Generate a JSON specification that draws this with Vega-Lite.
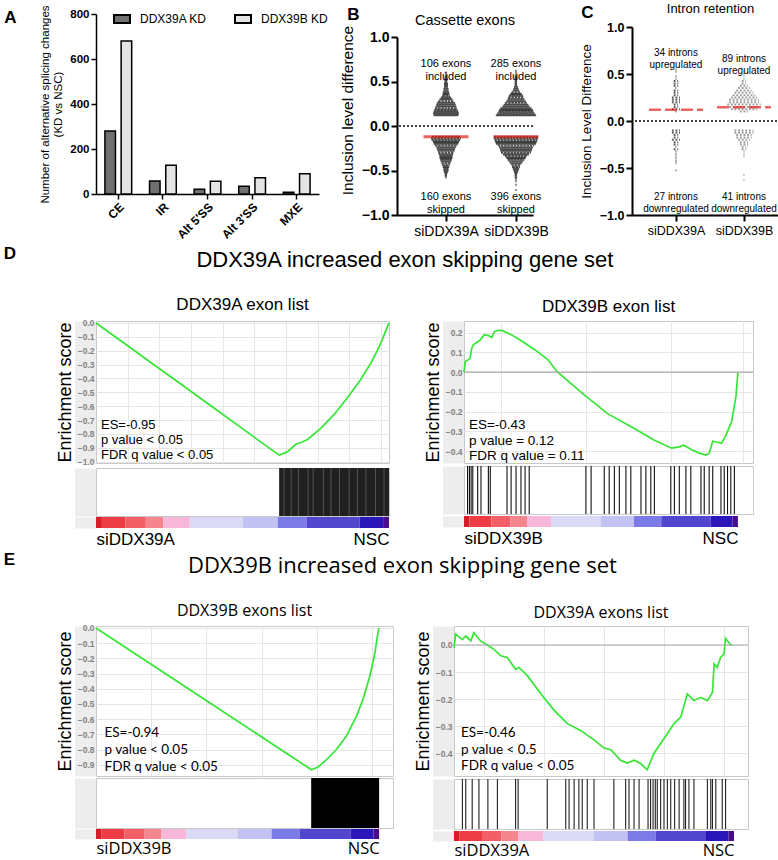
{
"$schema":"https://vega.github.io/schema/vega-lite/v6.json",
"padding":{"left":3,"top":2,"right":2,"bottom":2},
"config":{"font":"Liberation Sans","view":{"stroke":null},"axis":{"labelColor":"black","titleColor":"black","domainColor":"black","tickColor":"black","grid":false,"labelOverlap":false},"title":{"color":"black","fontWeight":"normal","offset":4},"legend":{"labelColor":"black"}},
"datasets":{
"one":[{"k":1}],
"aBars":[{"cat":"CE","kd":"DDX39A KD","n":280},{"cat":"CE","kd":"DDX39B KD","n":680},{"cat":"IR","kd":"DDX39A KD","n":58},{"cat":"IR","kd":"DDX39B KD","n":128},{"cat":"Alt 5'SS","kd":"DDX39A KD","n":21},{"cat":"Alt 5'SS","kd":"DDX39B KD","n":57},{"cat":"Alt 3'SS","kd":"DDX39A KD","n":35},{"cat":"Alt 3'SS","kd":"DDX39B KD","n":72},{"cat":"MXE","kd":"DDX39A KD","n":8},{"cat":"MXE","kd":"DDX39B KD","n":90}],
"bBins":[
{"g":"siDDX39A","v":0.6,"n":2},{"g":"siDDX39A","v":0.58,"n":1},{"g":"siDDX39A","v":0.56,"n":2},{"g":"siDDX39A","v":0.54,"n":2},{"g":"siDDX39A","v":0.52,"n":3},{"g":"siDDX39A","v":0.5,"n":2},{"g":"siDDX39A","v":0.48,"n":3},{"g":"siDDX39A","v":0.46,"n":3},{"g":"siDDX39A","v":0.44,"n":3},{"g":"siDDX39A","v":0.42,"n":4},{"g":"siDDX39A","v":0.4,"n":4},{"g":"siDDX39A","v":0.38,"n":5},{"g":"siDDX39A","v":0.36,"n":5},{"g":"siDDX39A","v":0.34,"n":6},{"g":"siDDX39A","v":0.32,"n":8},{"g":"siDDX39A","v":0.3,"n":10},{"g":"siDDX39A","v":0.28,"n":12},{"g":"siDDX39A","v":0.26,"n":14},{"g":"siDDX39A","v":0.24,"n":15},{"g":"siDDX39A","v":0.22,"n":16},{"g":"siDDX39A","v":0.2,"n":17},{"g":"siDDX39A","v":0.18,"n":18},{"g":"siDDX39A","v":0.16,"n":19},{"g":"siDDX39A","v":0.14,"n":20},{"g":"siDDX39A","v":0.12,"n":19},
{"g":"siDDX39A","v":-0.12,"n":22},{"g":"siDDX39A","v":-0.14,"n":23},{"g":"siDDX39A","v":-0.16,"n":22},{"g":"siDDX39A","v":-0.18,"n":20},{"g":"siDDX39A","v":-0.2,"n":19},{"g":"siDDX39A","v":-0.22,"n":17},{"g":"siDDX39A","v":-0.24,"n":15},{"g":"siDDX39A","v":-0.26,"n":14},{"g":"siDDX39A","v":-0.28,"n":13},{"g":"siDDX39A","v":-0.3,"n":12},{"g":"siDDX39A","v":-0.32,"n":11},{"g":"siDDX39A","v":-0.34,"n":10},{"g":"siDDX39A","v":-0.36,"n":10},{"g":"siDDX39A","v":-0.38,"n":9},{"g":"siDDX39A","v":-0.4,"n":8},{"g":"siDDX39A","v":-0.42,"n":7},{"g":"siDDX39A","v":-0.44,"n":6},{"g":"siDDX39A","v":-0.46,"n":5},{"g":"siDDX39A","v":-0.48,"n":4},{"g":"siDDX39A","v":-0.5,"n":4},{"g":"siDDX39A","v":-0.52,"n":3},{"g":"siDDX39A","v":-0.54,"n":2},{"g":"siDDX39A","v":-0.56,"n":2},{"g":"siDDX39A","v":-0.58,"n":1},
{"g":"siDDX39B","v":0.62,"n":1},{"g":"siDDX39B","v":0.6,"n":1},{"g":"siDDX39B","v":0.58,"n":1},{"g":"siDDX39B","v":0.56,"n":2},{"g":"siDDX39B","v":0.54,"n":2},{"g":"siDDX39B","v":0.52,"n":2},{"g":"siDDX39B","v":0.5,"n":2},{"g":"siDDX39B","v":0.48,"n":2},{"g":"siDDX39B","v":0.46,"n":2},{"g":"siDDX39B","v":0.44,"n":3},{"g":"siDDX39B","v":0.42,"n":4},{"g":"siDDX39B","v":0.4,"n":5},{"g":"siDDX39B","v":0.38,"n":7},{"g":"siDDX39B","v":0.36,"n":9},{"g":"siDDX39B","v":0.34,"n":11},{"g":"siDDX39B","v":0.32,"n":12},{"g":"siDDX39B","v":0.3,"n":13},{"g":"siDDX39B","v":0.28,"n":15},{"g":"siDDX39B","v":0.26,"n":17},{"g":"siDDX39B","v":0.24,"n":19},{"g":"siDDX39B","v":0.22,"n":21},{"g":"siDDX39B","v":0.2,"n":24},{"g":"siDDX39B","v":0.18,"n":26},{"g":"siDDX39B","v":0.16,"n":27},{"g":"siDDX39B","v":0.14,"n":29},{"g":"siDDX39B","v":0.12,"n":31},
{"g":"siDDX39B","v":-0.12,"n":34},{"g":"siDDX39B","v":-0.14,"n":34},{"g":"siDDX39B","v":-0.16,"n":33},{"g":"siDDX39B","v":-0.18,"n":32},{"g":"siDDX39B","v":-0.2,"n":31},{"g":"siDDX39B","v":-0.22,"n":28},{"g":"siDDX39B","v":-0.24,"n":26},{"g":"siDDX39B","v":-0.26,"n":25},{"g":"siDDX39B","v":-0.28,"n":24},{"g":"siDDX39B","v":-0.3,"n":23},{"g":"siDDX39B","v":-0.32,"n":20},{"g":"siDDX39B","v":-0.34,"n":17},{"g":"siDDX39B","v":-0.36,"n":15},{"g":"siDDX39B","v":-0.38,"n":13},{"g":"siDDX39B","v":-0.4,"n":11},{"g":"siDDX39B","v":-0.42,"n":9},{"g":"siDDX39B","v":-0.44,"n":7},{"g":"siDDX39B","v":-0.46,"n":6},{"g":"siDDX39B","v":-0.48,"n":5},{"g":"siDDX39B","v":-0.5,"n":4},{"g":"siDDX39B","v":-0.52,"n":3},{"g":"siDDX39B","v":-0.54,"n":2},{"g":"siDDX39B","v":-0.56,"n":2},{"g":"siDDX39B","v":-0.58,"n":2},{"g":"siDDX39B","v":-0.6,"n":1},{"g":"siDDX39B","v":-0.62,"n":1},{"g":"siDDX39B","v":-0.66,"n":1},{"g":"siDDX39B","v":-0.72,"n":1}],
"bMed":[{"g":"siDDX39A","v":-0.12},{"g":"siDDX39B","v":-0.12}],
"bLab":[{"g":"siDDX39A","v":0.7,"t":["106 exons","included"]},{"g":"siDDX39B","v":0.7,"t":["285 exons","included"]},{"g":"siDDX39A","v":-0.8,"t":["160 exons","skipped"]},{"g":"siDDX39B","v":-0.8,"t":["396 exons","skipped"]}],
"cBins":[
{"g":"siDDX39A","v":0.55,"n":1},{"g":"siDDX39A","v":0.525,"n":1},{"g":"siDDX39A","v":0.475,"n":1},{"g":"siDDX39A","v":0.45,"n":1},{"g":"siDDX39A","v":0.425,"n":2},{"g":"siDDX39A","v":0.4,"n":2},{"g":"siDDX39A","v":0.375,"n":2},{"g":"siDDX39A","v":0.35,"n":1},{"g":"siDDX39A","v":0.325,"n":2},{"g":"siDDX39A","v":0.3,"n":2},{"g":"siDDX39A","v":0.275,"n":2},{"g":"siDDX39A","v":0.25,"n":3},{"g":"siDDX39A","v":0.225,"n":3},{"g":"siDDX39A","v":0.2,"n":3},{"g":"siDDX39A","v":0.175,"n":2},{"g":"siDDX39A","v":0.15,"n":2},{"g":"siDDX39A","v":0.125,"n":3},{"g":"siDDX39A","v":0.1,"n":1},
{"g":"siDDX39A","v":-0.1,"n":3},{"g":"siDDX39A","v":-0.125,"n":3},{"g":"siDDX39A","v":-0.15,"n":2},{"g":"siDDX39A","v":-0.175,"n":2},{"g":"siDDX39A","v":-0.2,"n":3},{"g":"siDDX39A","v":-0.225,"n":2},{"g":"siDDX39A","v":-0.25,"n":2},{"g":"siDDX39A","v":-0.275,"n":1},{"g":"siDDX39A","v":-0.3,"n":2},{"g":"siDDX39A","v":-0.325,"n":1},{"g":"siDDX39A","v":-0.35,"n":1},{"g":"siDDX39A","v":-0.375,"n":1},{"g":"siDDX39A","v":-0.4,"n":1},{"g":"siDDX39A","v":-0.425,"n":1},{"g":"siDDX39A","v":-0.45,"n":1},{"g":"siDDX39A","v":-0.525,"n":1},
{"g":"siDDX39B","v":0.525,"n":1},{"g":"siDDX39B","v":0.5,"n":1},{"g":"siDDX39B","v":0.475,"n":1},{"g":"siDDX39B","v":0.45,"n":1},{"g":"siDDX39B","v":0.425,"n":2},{"g":"siDDX39B","v":0.4,"n":2},{"g":"siDDX39B","v":0.375,"n":3},{"g":"siDDX39B","v":0.35,"n":4},{"g":"siDDX39B","v":0.325,"n":5},{"g":"siDDX39B","v":0.3,"n":6},{"g":"siDDX39B","v":0.275,"n":7},{"g":"siDDX39B","v":0.25,"n":8},{"g":"siDDX39B","v":0.225,"n":9},{"g":"siDDX39B","v":0.2,"n":9},{"g":"siDDX39B","v":0.175,"n":10},{"g":"siDDX39B","v":0.15,"n":9},{"g":"siDDX39B","v":0.125,"n":8},{"g":"siDDX39B","v":0.1,"n":3},
{"g":"siDDX39B","v":-0.1,"n":6},{"g":"siDDX39B","v":-0.125,"n":6},{"g":"siDDX39B","v":-0.15,"n":5},{"g":"siDDX39B","v":-0.175,"n":5},{"g":"siDDX39B","v":-0.2,"n":4},{"g":"siDDX39B","v":-0.225,"n":3},{"g":"siDDX39B","v":-0.25,"n":3},{"g":"siDDX39B","v":-0.275,"n":2},{"g":"siDDX39B","v":-0.3,"n":2},{"g":"siDDX39B","v":-0.325,"n":1},{"g":"siDDX39B","v":-0.35,"n":1},{"g":"siDDX39B","v":-0.375,"n":1},{"g":"siDDX39B","v":-0.575,"n":1},{"g":"siDDX39B","v":-0.625,"n":1}],
"cMed":[{"g":"siDDX39A","v":0.12},{"g":"siDDX39B","v":0.145}],
"cLab":[{"g":"siDDX39A","v":0.72,"t":["34 introns","upregulated"]},{"g":"siDDX39B","v":0.66,"t":["89 introns","upregulated"]},{"g":"siDDX39A","v":-0.81,"t":["27 introns","downregulated"]},{"g":"siDDX39B","v":-0.81,"t":["41 introns","downregulated"]}],
"cbar":[{"s":"s00","a":0,"b":2},{"s":"s01","a":2,"b":10},{"s":"s02","a":10,"b":17},{"s":"s03","a":17,"b":23},{"s":"s04","a":23,"b":32},{"s":"s05","a":32,"b":50},{"s":"s06","a":50,"b":62},{"s":"s07","a":62,"b":72},{"s":"s08","a":72,"b":90},{"s":"s09","a":90,"b":98},{"s":"s10","a":98,"b":100}],
"dlCurve":[{"r":0,"es":0},{"r":10,"es":-0.152},{"r":20,"es":-0.305},{"r":30,"es":-0.457},{"r":40,"es":-0.61},{"r":50,"es":-0.762},{"r":58,"es":-0.885},{"r":62.5,"es":-0.953},{"r":65.3,"es":-0.93},{"r":68.2,"es":-0.875},{"r":70,"es":-0.862},{"r":72.2,"es":-0.84},{"r":76.7,"es":-0.76},{"r":81.3,"es":-0.66},{"r":85.8,"es":-0.54},{"r":90.3,"es":-0.41},{"r":93.8,"es":-0.29},{"r":96,"es":-0.2},{"r":97.7,"es":-0.12},{"r":100,"es":0}],
"dlStat":[{"r":1.7,"es":-0.69,"t":["ES=-0.95","p value < 0.05","FDR q value < 0.05"]}],
"dlBlock":[{"a":62.5,"b":100}],
"dlTex":[{"r":64.2},{"r":66.6},{"r":69.1},{"r":72.4},{"r":74.1},{"r":77.6},{"r":80.2},{"r":83.1},{"r":86.4},{"r":89.2},{"r":92.1},{"r":95.4},{"r":98.3}],
"drCurve":[{"r":0,"es":0},{"r":0.5,"es":0.055},{"r":1.3,"es":0.06},{"r":2.2,"es":0.07},{"r":2.8,"es":0.12},{"r":3.5,"es":0.14},{"r":4.7,"es":0.15},{"r":6,"es":0.165},{"r":7.4,"es":0.19},{"r":8.9,"es":0.185},{"r":10.1,"es":0.175},{"r":11.1,"es":0.205},{"r":12.5,"es":0.212},{"r":14.1,"es":0.21},{"r":17.2,"es":0.19},{"r":20.8,"es":0.16},{"r":25.7,"es":0.115},{"r":30.5,"es":0.065},{"r":34.2,"es":0},{"r":43.9,"es":-0.115},{"r":52.4,"es":-0.21},{"r":62.2,"es":-0.285},{"r":69.5,"es":-0.345},{"r":75.8,"es":-0.385},{"r":78.6,"es":-0.378},{"r":80.2,"es":-0.37},{"r":82.8,"es":-0.39},{"r":85.9,"es":-0.41},{"r":88.3,"es":-0.42},{"r":89.5,"es":-0.41},{"r":90.8,"es":-0.35},{"r":92.6,"es":-0.355},{"r":94,"es":-0.36},{"r":95.6,"es":-0.32},{"r":96.8,"es":-0.28},{"r":97.7,"es":-0.25},{"r":98.7,"es":-0.17},{"r":99.3,"es":-0.12},{"r":100,"es":0}],
"drStat":[{"r":1.8,"es":-0.234,"t":["ES=-0.43","p value = 0.12","FDR q value = 0.11"]}],
"drHits":[{"r":1.3},{"r":2},{"r":2.6},{"r":3.2},{"r":5},{"r":6.2},{"r":8.9},{"r":9.6},{"r":15.7},{"r":17.2},{"r":19},{"r":20.8},{"r":22.3},{"r":23.8},{"r":44.5},{"r":46.4},{"r":51.2},{"r":53},{"r":54.9},{"r":56.7},{"r":59.1},{"r":60.9},{"r":64.6},{"r":66.4},{"r":68.2},{"r":69.5},{"r":75.5},{"r":76.8},{"r":78.6},{"r":81},{"r":82.8},{"r":86.5},{"r":87.7},{"r":89.5},{"r":90.8},{"r":93.8},{"r":95},{"r":96.2},{"r":97.4},{"r":98.7}],
"elCurve":[{"r":0,"es":0},{"r":20,"es":-0.245},{"r":40,"es":-0.49},{"r":60,"es":-0.735},{"r":76.1,"es":-0.933},{"r":78.4,"es":-0.915},{"r":81.4,"es":-0.867},{"r":84.9,"es":-0.8},{"r":88.4,"es":-0.713},{"r":92,"es":-0.58},{"r":94.3,"es":-0.47},{"r":96.7,"es":-0.318},{"r":98.5,"es":-0.165},{"r":99.6,"es":-0.03},{"r":100,"es":0}],
"elStat":[{"r":3,"es":-0.645,"t":["ES=-0.94","p value < 0.05","FDR q value < 0.05"]}],
"elBlock":[{"a":76,"b":100}],
"erCurve":[{"r":0,"es":-0.01},{"r":0.6,"es":0.04},{"r":3,"es":0.02},{"r":4.2,"es":0.033},{"r":6,"es":0.015},{"r":7.1,"es":0.045},{"r":9.5,"es":0.015},{"r":11.9,"es":0},{"r":14.3,"es":-0.016},{"r":16.7,"es":-0.04},{"r":19,"es":-0.046},{"r":22,"es":-0.09},{"r":23.2,"es":-0.083},{"r":26.2,"es":-0.113},{"r":31,"es":-0.18},{"r":35.7,"es":-0.24},{"r":40.5,"es":-0.29},{"r":45.2,"es":-0.315},{"r":50,"es":-0.35},{"r":53.6,"es":-0.38},{"r":56,"es":-0.386},{"r":59.5,"es":-0.425},{"r":61.9,"es":-0.435},{"r":64.3,"es":-0.425},{"r":66.7,"es":-0.437},{"r":69,"es":-0.46},{"r":71.4,"es":-0.4},{"r":73.8,"es":-0.363},{"r":76.2,"es":-0.327},{"r":78.6,"es":-0.29},{"r":81,"es":-0.266},{"r":83.3,"es":-0.18},{"r":85.7,"es":-0.205},{"r":88.1,"es":-0.193},{"r":90.5,"es":-0.205},{"r":92.3,"es":-0.175},{"r":92.9,"es":-0.07},{"r":94,"es":-0.083},{"r":95.2,"es":-0.046},{"r":96.4,"es":-0.034},{"r":97,"es":0.024},{"r":98.8,"es":0},{"r":99.4,"es":0}],
"erStat":[{"r":2.5,"es":-0.3,"t":["ES=-0.46","p value < 0.5","FDR q value < 0.05"]}],
"erHits":[{"r":3},{"r":4.2},{"r":6.5},{"r":8.9},{"r":12.1},{"r":15.5},{"r":22},{"r":22.9},{"r":33.3},{"r":39.9},{"r":41.1},{"r":42.9},{"r":44.6},{"r":45.8},{"r":47.6},{"r":50},{"r":57.1},{"r":61.3},{"r":62.5},{"r":64.3},{"r":66.1},{"r":69.3},{"r":70.2},{"r":71.1},{"r":71.9},{"r":72.6},{"r":73.8},{"r":75},{"r":76.2},{"r":77.4},{"r":78.8},{"r":80.4},{"r":82.1},{"r":82.7},{"r":83.9},{"r":85.7},{"r":90.5},{"r":91.7},{"r":92.3},{"r":93.5},{"r":95.8},{"r":97}]
},
"resolve":{"scale":{"size":"independent","color":"independent","fill":"independent","stroke":"independent"}},
"spacing":4,
"vconcat":[
{"spacing":12,"resolve":{"scale":{"size":"independent","fill":"independent","stroke":"independent"}},
 "hconcat":[
  {"title":{"text":"A","anchor":"start","fontSize":17,"fontWeight":"bold","dx":-35,"dy":26},
   "width":223,"height":180,"data":{"name":"aBars"},
   "mark":{"type":"bar","stroke":"black","strokeWidth":1.5},
   "encoding":{
    "x":{"field":"cat","type":"nominal","sort":["CE","IR","Alt 5'SS","Alt 3'SS","MXE"],"scale":{"paddingInner":0.4,"paddingOuter":0.2},"axis":{"title":null,"labelAngle":-45,"labelFontWeight":"bold","labelFontSize":12,"domainWidth":1.5,"tickWidth":1.5,"tickSize":5,"labelPadding":2}},
    "xOffset":{"field":"kd","type":"nominal","scale":{"paddingInner":0.35}},
    "y":{"field":"n","type":"quantitative","scale":{"domain":[0,800],"nice":false},"axis":{"values":[0,200,400,600,800],"title":["Number of alternative splicing changes","(KD vs NSC)"],"titleFontSize":11.5,"titleFontWeight":"normal","titlePadding":6,"labelFontWeight":"bold","labelFontSize":11.5,"domainWidth":1.5,"tickWidth":1.5,"tickSize":5}},
    "fill":{"field":"kd","type":"nominal","scale":{"domain":["DDX39A KD","DDX39B KD"],"range":["#707070","#e4e4e4"]},"legend":{"orient":"none","legendX":17,"legendY":-4,"direction":"horizontal","title":null,"symbolType":"M-1,-0.5H1V0.5H-1Z","symbolSize":256,"symbolStrokeColor":"black","symbolStrokeWidth":2,"labelFontSize":12,"columnPadding":24,"labelOffset":9}}
   }},
  {"spacing":30,"resolve":{"scale":{"size":"independent","stroke":"independent"}},
   "hconcat":[
    {"title":{"text":"B","anchor":"start","fontSize":17,"fontWeight":"bold","dx":7,"dy":15},
     "vconcat":[
      {"title":{"text":"Cassette exons","fontSize":14.5,"anchor":"middle","dy":18},
       "width":136,"height":201,
       "layer":[
        {"data":{"name":"one"},"mark":{"type":"rule","strokeDash":[2,2],"strokeWidth":1.3,"color":"black"},"encoding":{"y":{"datum":0,"type":"quantitative","scale":{"domain":[-1,1],"range":[201,23],"nice":false,"zero":false}}}},
        {"data":{"name":"bBins"},"mark":{"type":"tick","orient":"horizontal","filled":false,"thickness":0,"strokeWidth":1.9,"strokeDash":[2.4,0.8],"color":"#000000"},
         "encoding":{
          "x":{"field":"g","type":"nominal","scale":{"type":"point","domain":["siDDX39A","siDDX39B"],"padding":0.4714,"align":0.742},"axis":{"title":null,"labelAngle":0,"labelFontSize":14,"tickSize":6,"tickWidth":2,"domainWidth":2,"labelPadding":3}},
          "y":{"field":"v","type":"quantitative","scale":{"domain":[-1,1],"range":[201,23],"nice":false,"zero":false},"axis":{"values":[-1,-0.5,0,0.5,1],"format":".1f","title":"Inclusion level difference","titleFontSize":15.5,"titleFontWeight":"normal","titlePadding":6,"titleY":96,"labelFontSize":14,"labelFontWeight":"bold","tickSize":6,"tickWidth":2,"domainWidth":2,"labelPadding":2}},
          "size":{"field":"n","type":"quantitative","scale":{"domain":[0,40],"range":[0,52]},"legend":null}}},
        {"data":{"name":"bMed"},"mark":{"type":"tick","orient":"horizontal","thickness":3,"size":45,"color":"#e0211b"},
         "encoding":{"x":{"field":"g","type":"nominal","scale":{"type":"point","domain":["siDDX39A","siDDX39B"],"padding":0.4714,"align":0.742}},"y":{"field":"v","type":"quantitative","scale":{"domain":[-1,1],"range":[201,23],"nice":false,"zero":false}}}},
        {"data":{"name":"bLab"},"mark":{"type":"text","fontSize":11,"lineHeight":13,"baseline":"middle"},
         "encoding":{"x":{"field":"g","type":"nominal","scale":{"type":"point","domain":["siDDX39A","siDDX39B"],"padding":0.4714,"align":0.742}},"y":{"field":"v","type":"quantitative","scale":{"domain":[-1,1],"range":[201,23],"nice":false,"zero":false}},"text":{"field":"t"}}}
       ]}
     ]},
    {"title":{"text":"C","anchor":"start","fontSize":17,"fontWeight":"bold","dx":2,"dy":23},
     "vconcat":[
      {"title":{"text":"Intron retention","fontSize":13,"anchor":"middle","dy":5.5},
       "width":157,"height":201,
       "layer":[
        {"data":{"name":"one"},"mark":{"type":"rule","strokeDash":[2,2],"strokeWidth":1.3,"color":"black"},"encoding":{"y":{"datum":0,"type":"quantitative","scale":{"domain":[-1,1],"range":[201,13],"nice":false,"zero":false}}}},
        {"data":{"name":"cBins"},"mark":{"type":"tick","orient":"horizontal","filled":false,"thickness":0,"strokeWidth":2,"strokeDash":[1.8,1.8]},
         "encoding":{
          "x":{"field":"g","type":"nominal","scale":{"type":"point","domain":["siDDX39A","siDDX39B"],"padding":0.654,"align":0.494},"axis":{"title":null,"labelAngle":0,"labelFontSize":12.5,"tickSize":6,"tickWidth":2,"domainWidth":2,"labelPadding":3}},
          "y":{"field":"v","type":"quantitative","scale":{"domain":[-1,1],"range":[201,13],"nice":false,"zero":false},"axis":{"values":[-1,-0.5,0,0.5,1],"format":".1f","title":"Inclusion Level Difference","titleFontSize":13.5,"titleFontWeight":"normal","titlePadding":6,"labelFontSize":12.5,"labelFontWeight":"bold","tickSize":6,"tickWidth":2,"domainWidth":2,"labelPadding":2}},
          "size":{"field":"n","type":"quantitative","scale":{"domain":[1,11],"range":[0.9,36.9],"zero":false},"legend":null},
          "stroke":{"field":"g","type":"nominal","scale":{"domain":["siDDX39A","siDDX39B"],"range":["#111111","#707070"]},"legend":null}}},
        {"data":{"name":"cMed"},"mark":{"type":"tick","orient":"horizontal","filled":false,"thickness":0,"size":54,"strokeWidth":2.5,"strokeDash":[12,4],"color":"#e0211b"},
         "encoding":{"x":{"field":"g","type":"nominal","scale":{"type":"point","domain":["siDDX39A","siDDX39B"],"padding":0.654,"align":0.494}},"y":{"field":"v","type":"quantitative","scale":{"domain":[-1,1],"range":[201,13],"nice":false,"zero":false}}}},
        {"data":{"name":"cLab"},"mark":{"type":"text","fontSize":10,"lineHeight":12,"baseline":"middle"},
         "encoding":{"x":{"field":"g","type":"nominal","scale":{"type":"point","domain":["siDDX39A","siDDX39B"],"padding":0.654,"align":0.494}},"y":{"field":"v","type":"quantitative","scale":{"domain":[-1,1],"range":[201,13],"nice":false,"zero":false}},"text":{"field":"t"}}}
       ]}
     ]}
   ]}
 ]},
{"title":{"text":"D","anchor":"start","fontSize":17,"fontWeight":"bold","dx":-52,"dy":18},
 "vconcat":[
  {"title":{"text":"DDX39A increased exon skipping gene set","fontSize":22,"anchor":"middle","offset":23},
   "spacing":30,
   "hconcat":[
    {"spacing":0,"vconcat":[
     {"title":{"text":"DDX39A exon list","fontSize":17,"offset":5},"width":293,"height":142,"view":{"stroke":"#c8c8c8"},
      "layer":[
       {"data":{"name":"dlCurve"},"mark":{"type":"line","color":"#35e635","strokeWidth":1.7},
        "encoding":{"x":{"field":"r","type":"quantitative","scale":{"domain":[0,100],"nice":false,"zero":false},"axis":{"title":null,"labels":false,"ticks":false,"domain":false,"grid":true,"gridColor":"#e6e6e6","values":[10.8,21.6,32.4,43.2,54,64.8,75.6,86.4,97.2]}},
         "y":{"field":"es","type":"quantitative","scale":{"domain":[-1.01,0.014],"nice":false,"zero":false},"axis":{"title":"Enrichment score","titleFontSize":18,"titleFontWeight":"normal","titlePadding":3,"values":[0,-0.1,-0.2,-0.3,-0.4,-0.5,-0.6,-0.7,-0.8,-0.9,-1],"format":".1f","labelFontSize":8.5,"labelColor":"#8c8c8c","labelFontWeight":"bold","labelOverlap":false,"labelSeparation":0,"labelBound":false,"ticks":false,"tickSize":0,"domain":true,"domainColor":"#000000","domainOpacity":0.07,"domainWidth":21,"offset":11,"labelPadding":-9,"grid":true,"gridColor":"#e6e6e6"}}}},
       {"data":{"name":"dlStat"},"mark":{"type":"text","align":"left","baseline":"top","fontSize":13,"lineHeight":15},
        "encoding":{"x":{"field":"r","type":"quantitative","scale":{"domain":[0,100],"nice":false,"zero":false},"axis":{"title":null,"labels":false,"ticks":false,"domain":false,"grid":true,"gridColor":"#e6e6e6","values":[10.8,21.6,32.4,43.2,54,64.8,75.6,86.4,97.2]}},
         "y":{"field":"es","type":"quantitative","scale":{"domain":[-1.01,0.014],"nice":false,"zero":false},"axis":{"title":"Enrichment score","titleFontSize":18,"titleFontWeight":"normal","titlePadding":3,"values":[0,-0.1,-0.2,-0.3,-0.4,-0.5,-0.6,-0.7,-0.8,-0.9,-1],"format":".1f","labelFontSize":8.5,"labelColor":"#8c8c8c","labelFontWeight":"bold","labelOverlap":false,"labelSeparation":0,"labelBound":false,"ticks":false,"tickSize":0,"domain":true,"domainColor":"#000000","domainOpacity":0.07,"domainWidth":21,"offset":11,"labelPadding":-9,"grid":true,"gridColor":"#e6e6e6"}},
         "text":{"field":"t"}}}
      ]},
     {"width":293,"height":48,"view":{"stroke":"#c8c8c8"},
      "layer":[
       {"data":{"name":"one"},"mark":{"type":"rule","opacity":0},"encoding":{"y":{"datum":0,"type":"quantitative","scale":{"domain":[0,1]},"axis":{"title":null,"labels":false,"ticks":false,"grid":false,"domain":true,"domainColor":"#000000","domainOpacity":0.07,"domainWidth":21,"offset":11}}}},
       {"data":{"name":"dlBlock"},"mark":{"type":"rect","color":"#202020"},"encoding":{"x":{"field":"a","type":"quantitative","scale":{"domain":[0,100],"nice":false,"zero":false},"axis":null},"x2":{"field":"b"}}},
       {"data":{"name":"dlTex"},"mark":{"type":"rule","color":"#6a6a6a","strokeWidth":0.7},"encoding":{"x":{"field":"r","type":"quantitative","axis":null}}}
      ]},
     {"width":293,"height":11,
      "layer":[
       {"data":{"name":"one"},"mark":{"type":"rule","opacity":0},"encoding":{"y":{"datum":0,"type":"quantitative","scale":{"domain":[0,1]},"axis":{"title":null,"labels":false,"ticks":false,"grid":false,"domain":true,"domainColor":"#000000","domainOpacity":0.07,"domainWidth":21,"offset":11}}}},
       {"data":{"name":"cbar"},"mark":{"type":"rect"},
        "encoding":{"x":{"field":"a","type":"quantitative","scale":{"domain":[0,100],"nice":false,"zero":false},"axis":{"title":null,"values":[0,100],"labelExpr":"datum.value == 0 ? 'siDDX39A' : 'NSC'","labelAlign":{"condition":{"test":"datum.value == 0","value":"left"},"value":"right"},"labelFontSize":17,"ticks":false,"domain":false,"labelPadding":3,"labelFlush":false,"labelOverlap":false,"grid":false}},
         "x2":{"field":"b"},
         "color":{"field":"s","type":"nominal","scale":{"domain":["s00","s01","s02","s03","s04","s05","s06","s07","s08","s09","s10"],"range":["#d71e26","#ee3c44","#f25f67","#f5868d","#f7b7d9","#dadaf7","#c3c3f3","#7c7ae6","#5147cf","#2a16b9","#4a0c8c"]},"legend":null}}}
      ]}
    ]},
    {"spacing":0,"vconcat":[
     {"title":{"text":"DDX39B exon list","fontSize":17,"offset":5},"width":289,"height":142,"view":{"stroke":"#c8c8c8"},
      "layer":[
       {"data":{"name":"drCurve"},"mark":{"type":"line","color":"#35e635","strokeWidth":1.7},
        "encoding":{"x":{"field":"r","type":"quantitative","scale":{"domain":[0,105.5],"nice":false,"zero":false},"axis":{"title":null,"labels":false,"ticks":false,"domain":false,"grid":true,"gridColor":"#e6e6e6","values":[13.5,44.5,75.5,102]}},
         "y":{"field":"es","type":"quantitative","scale":{"domain":[-0.46,0.259],"nice":false,"zero":false},"axis":{"title":"Enrichment score","titleFontSize":18,"titleFontWeight":"normal","titlePadding":3,"values":[0.2,0.1,0,-0.1,-0.2,-0.3,-0.4],"format":".1f","labelFontSize":8.5,"labelColor":"#8c8c8c","labelFontWeight":"bold","labelOverlap":false,"labelSeparation":0,"labelBound":false,"ticks":false,"tickSize":0,"domain":true,"domainColor":"#000000","domainOpacity":0.07,"domainWidth":21,"offset":11,"labelPadding":-9,"grid":true,"gridColor":"#e6e6e6"}}}},
       {"data":{"name":"drStat"},"mark":{"type":"text","align":"left","baseline":"top","fontSize":13.5,"lineHeight":15.5},
        "encoding":{"x":{"field":"r","type":"quantitative","scale":{"domain":[0,105.5],"nice":false,"zero":false},"axis":{"title":null,"labels":false,"ticks":false,"domain":false,"grid":true,"gridColor":"#e6e6e6","values":[13.5,44.5,75.5,102]}},
         "y":{"field":"es","type":"quantitative","scale":{"domain":[-0.46,0.259],"nice":false,"zero":false},"axis":{"title":"Enrichment score","titleFontSize":18,"titleFontWeight":"normal","titlePadding":3,"values":[0.2,0.1,0,-0.1,-0.2,-0.3,-0.4],"format":".1f","labelFontSize":8.5,"labelColor":"#8c8c8c","labelFontWeight":"bold","labelOverlap":false,"labelSeparation":0,"labelBound":false,"ticks":false,"tickSize":0,"domain":true,"domainColor":"#000000","domainOpacity":0.07,"domainWidth":21,"offset":11,"labelPadding":-9,"grid":true,"gridColor":"#e6e6e6"}},
         "text":{"field":"t"}}},
       {"data":{"name":"one"},"mark":{"type":"rule","color":"#a8a8a8","strokeWidth":1.2},"encoding":{"y":{"datum":0,"type":"quantitative","scale":{"domain":[-0.46,0.259],"nice":false,"zero":false},"axis":{"title":"Enrichment score","titleFontSize":18,"titleFontWeight":"normal","titlePadding":3,"values":[0.2,0.1,0,-0.1,-0.2,-0.3,-0.4],"format":".1f","labelFontSize":8.5,"labelColor":"#8c8c8c","labelFontWeight":"bold","labelOverlap":false,"labelSeparation":0,"labelBound":false,"ticks":false,"tickSize":0,"domain":true,"domainColor":"#000000","domainOpacity":0.07,"domainWidth":21,"offset":11,"labelPadding":-9,"grid":true,"gridColor":"#e6e6e6"}}}}
      ]},
     {"width":289,"height":48,"view":{"stroke":"#c8c8c8"},
      "layer":[
       {"data":{"name":"one"},"mark":{"type":"rule","opacity":0},"encoding":{"y":{"datum":0,"type":"quantitative","scale":{"domain":[0,1]},"axis":{"title":null,"labels":false,"ticks":false,"grid":false,"domain":true,"domainColor":"#000000","domainOpacity":0.07,"domainWidth":21,"offset":11}}}},
       {"data":{"name":"drHits"},"mark":{"type":"rule","color":"#111111","strokeWidth":1.1},"encoding":{"x":{"field":"r","type":"quantitative","scale":{"domain":[0,105.5],"nice":false,"zero":false},"axis":null}}}
      ]},
     {"width":289,"height":11,
      "layer":[
       {"data":{"name":"one"},"mark":{"type":"rule","opacity":0},"encoding":{"y":{"datum":0,"type":"quantitative","scale":{"domain":[0,1]},"axis":{"title":null,"labels":false,"ticks":false,"grid":false,"domain":true,"domainColor":"#000000","domainOpacity":0.07,"domainWidth":21,"offset":11}}}},
       {"data":{"name":"cbar"},"mark":{"type":"rect"},
        "encoding":{"x":{"field":"a","type":"quantitative","scale":{"domain":[0,105.5],"nice":false,"zero":false},"axis":{"title":null,"values":[0,100],"labelExpr":"datum.value == 0 ? 'siDDX39B' : 'NSC'","labelAlign":{"condition":{"test":"datum.value == 0","value":"left"},"value":"right"},"labelFontSize":17,"ticks":false,"domain":false,"labelPadding":3,"labelFlush":false,"labelOverlap":false,"grid":false}},
         "x2":{"field":"b"},
         "color":{"field":"s","type":"nominal","scale":{"domain":["s00","s01","s02","s03","s04","s05","s06","s07","s08","s09","s10"],"range":["#d71e26","#ee3c44","#f25f67","#f5868d","#f7b7d9","#dadaf7","#c3c3f3","#7c7ae6","#5147cf","#2a16b9","#4a0c8c"]},"legend":null}}}
      ]}
    ]}
   ]}
 ]},
{"title":{"text":"E","anchor":"start","fontSize":17,"fontWeight":"bold","dx":-52,"dy":18},
 "vconcat":[
  {"title":{"text":"DDX39B increased exon skipping gene set","fontSize":22,"font":"Open Sans","anchor":"middle","offset":24},
   "spacing":19,
   "hconcat":[
    {"spacing":0,"vconcat":[
     {"title":{"text":"DDX39B exons list","fontSize":16,"font":"Open Sans","offset":5},"width":297,"height":150,"view":{"stroke":"#c8c8c8"},
      "layer":[
       {"data":{"name":"elCurve"},"mark":{"type":"line","color":"#35e635","strokeWidth":1.7},
        "encoding":{"x":{"field":"r","type":"quantitative","scale":{"domain":[0,104.9],"nice":false,"zero":false},"axis":{"title":null,"labels":false,"ticks":false,"domain":false,"grid":true,"gridColor":"#e6e6e6","values":[19.5,39,58.5,78,97.5]}},
         "y":{"field":"es","type":"quantitative","scale":{"domain":[-0.974,0.013],"nice":false,"zero":false},"axis":{"title":"Enrichment score","titleFontSize":18,"titleFontWeight":"normal","titlePadding":3,"values":[0,-0.1,-0.2,-0.3,-0.4,-0.5,-0.6,-0.7,-0.8,-0.9],"format":".1f","labelFontSize":8.5,"labelColor":"#8c8c8c","labelFontWeight":"bold","labelOverlap":false,"labelSeparation":0,"labelBound":false,"ticks":false,"tickSize":0,"domain":true,"domainColor":"#000000","domainOpacity":0.07,"domainWidth":21,"offset":11,"labelPadding":-9,"grid":true,"gridColor":"#e6e6e6"}}}},
       {"data":{"name":"elStat"},"mark":{"type":"text","align":"left","baseline":"top","fontSize":13.5,"font":"Lato","lineHeight":17},
        "encoding":{"x":{"field":"r","type":"quantitative","scale":{"domain":[0,104.9],"nice":false,"zero":false},"axis":{"title":null,"labels":false,"ticks":false,"domain":false,"grid":true,"gridColor":"#e6e6e6","values":[19.5,39,58.5,78,97.5]}},
         "y":{"field":"es","type":"quantitative","scale":{"domain":[-0.974,0.013],"nice":false,"zero":false},"axis":{"title":"Enrichment score","titleFontSize":18,"titleFontWeight":"normal","titlePadding":3,"values":[0,-0.1,-0.2,-0.3,-0.4,-0.5,-0.6,-0.7,-0.8,-0.9],"format":".1f","labelFontSize":8.5,"labelColor":"#8c8c8c","labelFontWeight":"bold","labelOverlap":false,"labelSeparation":0,"labelBound":false,"ticks":false,"tickSize":0,"domain":true,"domainColor":"#000000","domainOpacity":0.07,"domainWidth":21,"offset":11,"labelPadding":-9,"grid":true,"gridColor":"#e6e6e6"}},
         "text":{"field":"t"}}}
      ]},
     {"width":297,"height":50,"view":{"stroke":"#c8c8c8"},
      "layer":[
       {"data":{"name":"one"},"mark":{"type":"rule","opacity":0},"encoding":{"y":{"datum":0,"type":"quantitative","scale":{"domain":[0,1]},"axis":{"title":null,"labels":false,"ticks":false,"grid":false,"domain":true,"domainColor":"#000000","domainOpacity":0.07,"domainWidth":21,"offset":11}}}},
       {"data":{"name":"elBlock"},"mark":{"type":"rect","color":"#000000"},"encoding":{"x":{"field":"a","type":"quantitative","scale":{"domain":[0,104.9],"nice":false,"zero":false},"axis":null},"x2":{"field":"b"}}}
      ]},
     {"width":297,"height":10,
      "layer":[
       {"data":{"name":"one"},"mark":{"type":"rule","opacity":0},"encoding":{"y":{"datum":0,"type":"quantitative","scale":{"domain":[0,1]},"axis":{"title":null,"labels":false,"ticks":false,"grid":false,"domain":true,"domainColor":"#000000","domainOpacity":0.07,"domainWidth":21,"offset":11}}}},
       {"data":{"name":"cbar"},"mark":{"type":"rect"},
        "encoding":{"x":{"field":"a","type":"quantitative","scale":{"domain":[0,104.9],"nice":false,"zero":false},"axis":{"title":null,"values":[0,100],"labelExpr":"datum.value == 0 ? 'siDDX39B' : 'NSC'","labelAlign":{"condition":{"test":"datum.value == 0","value":"left"},"value":"right"},"labelFontSize":16.5,"labelFont":"Open Sans","ticks":false,"domain":false,"labelPadding":1,"labelFlush":false,"labelOverlap":false,"grid":false}},
         "x2":{"field":"b"},
         "color":{"field":"s","type":"nominal","scale":{"domain":["s00","s01","s02","s03","s04","s05","s06","s07","s08","s09","s10"],"range":["#d71e26","#ee3c44","#f25f67","#f5868d","#f7b7d9","#dadaf7","#c3c3f3","#7c7ae6","#5147cf","#2a16b9","#4a0c8c"]},"legend":null}}}
      ]}
    ]},
    {"spacing":0,"vconcat":[
     {"title":{"text":"DDX39A exons list","fontSize":16,"font":"Open Sans","offset":5},"width":294,"height":150,"view":{"stroke":"#c8c8c8"},
      "layer":[
       {"data":{"name":"erCurve"},"mark":{"type":"line","color":"#35e635","strokeWidth":1.7},
        "encoding":{"x":{"field":"r","type":"quantitative","scale":{"domain":[0,105],"nice":false,"zero":false},"axis":{"title":null,"labels":false,"ticks":false,"domain":false,"grid":true,"gridColor":"#e6e6e6","values":[10.7,32.1,53.6,75,96.4]}},
         "y":{"field":"es","type":"quantitative","scale":{"domain":[-0.483,0.07],"nice":false,"zero":false},"axis":{"title":"Enrichment score","titleFontSize":18,"titleFontWeight":"normal","titlePadding":3,"values":[0,-0.1,-0.2,-0.3,-0.4],"format":".1f","labelFontSize":8.5,"labelColor":"#8c8c8c","labelFontWeight":"bold","labelOverlap":false,"labelSeparation":0,"labelBound":false,"ticks":false,"tickSize":0,"domain":true,"domainColor":"#000000","domainOpacity":0.07,"domainWidth":21,"offset":11,"labelPadding":-9,"grid":true,"gridColor":"#e6e6e6"}}}},
       {"data":{"name":"erStat"},"mark":{"type":"text","align":"left","baseline":"top","fontSize":13.5,"font":"Lato","lineHeight":16.5},
        "encoding":{"x":{"field":"r","type":"quantitative","scale":{"domain":[0,105],"nice":false,"zero":false},"axis":{"title":null,"labels":false,"ticks":false,"domain":false,"grid":true,"gridColor":"#e6e6e6","values":[10.7,32.1,53.6,75,96.4]}},
         "y":{"field":"es","type":"quantitative","scale":{"domain":[-0.483,0.07],"nice":false,"zero":false},"axis":{"title":"Enrichment score","titleFontSize":18,"titleFontWeight":"normal","titlePadding":3,"values":[0,-0.1,-0.2,-0.3,-0.4],"format":".1f","labelFontSize":8.5,"labelColor":"#8c8c8c","labelFontWeight":"bold","labelOverlap":false,"labelSeparation":0,"labelBound":false,"ticks":false,"tickSize":0,"domain":true,"domainColor":"#000000","domainOpacity":0.07,"domainWidth":21,"offset":11,"labelPadding":-9,"grid":true,"gridColor":"#e6e6e6"}},
         "text":{"field":"t"}}},
       {"data":{"name":"one"},"mark":{"type":"rule","color":"#a8a8a8","strokeWidth":1.2},"encoding":{"y":{"datum":0,"type":"quantitative","scale":{"domain":[-0.483,0.07],"nice":false,"zero":false},"axis":{"title":"Enrichment score","titleFontSize":18,"titleFontWeight":"normal","titlePadding":3,"values":[0,-0.1,-0.2,-0.3,-0.4],"format":".1f","labelFontSize":8.5,"labelColor":"#8c8c8c","labelFontWeight":"bold","labelOverlap":false,"labelSeparation":0,"labelBound":false,"ticks":false,"tickSize":0,"domain":true,"domainColor":"#000000","domainOpacity":0.07,"domainWidth":21,"offset":11,"labelPadding":-9,"grid":true,"gridColor":"#e6e6e6"}}}}
      ]},
     {"width":294,"height":50,"view":{"stroke":"#c8c8c8"},
      "layer":[
       {"data":{"name":"one"},"mark":{"type":"rule","opacity":0},"encoding":{"y":{"datum":0,"type":"quantitative","scale":{"domain":[0,1]},"axis":{"title":null,"labels":false,"ticks":false,"grid":false,"domain":true,"domainColor":"#000000","domainOpacity":0.07,"domainWidth":21,"offset":11}}}},
       {"data":{"name":"erHits"},"mark":{"type":"rule","color":"#222222","strokeWidth":1.1},"encoding":{"x":{"field":"r","type":"quantitative","scale":{"domain":[0,105],"nice":false,"zero":false},"axis":null}}}
      ]},
     {"width":294,"height":10,
      "layer":[
       {"data":{"name":"one"},"mark":{"type":"rule","opacity":0},"encoding":{"y":{"datum":0,"type":"quantitative","scale":{"domain":[0,1]},"axis":{"title":null,"labels":false,"ticks":false,"grid":false,"domain":true,"domainColor":"#000000","domainOpacity":0.07,"domainWidth":21,"offset":11}}}},
       {"data":{"name":"cbar"},"mark":{"type":"rect"},
        "encoding":{"x":{"field":"a","type":"quantitative","scale":{"domain":[0,105],"nice":false,"zero":false},"axis":{"title":null,"values":[0,100],"labelExpr":"datum.value == 0 ? 'siDDX39A' : 'NSC'","labelAlign":{"condition":{"test":"datum.value == 0","value":"left"},"value":"right"},"labelFontSize":16.5,"labelFont":"Open Sans","ticks":false,"domain":false,"labelPadding":1,"labelFlush":false,"labelOverlap":false,"grid":false}},
         "x2":{"field":"b"},
         "color":{"field":"s","type":"nominal","scale":{"domain":["s00","s01","s02","s03","s04","s05","s06","s07","s08","s09","s10"],"range":["#d71e26","#ee3c44","#f25f67","#f5868d","#f7b7d9","#dadaf7","#c3c3f3","#7c7ae6","#5147cf","#2a16b9","#4a0c8c"]},"legend":null}}}
      ]}
    ]}
   ]}
 ]}
]
}
